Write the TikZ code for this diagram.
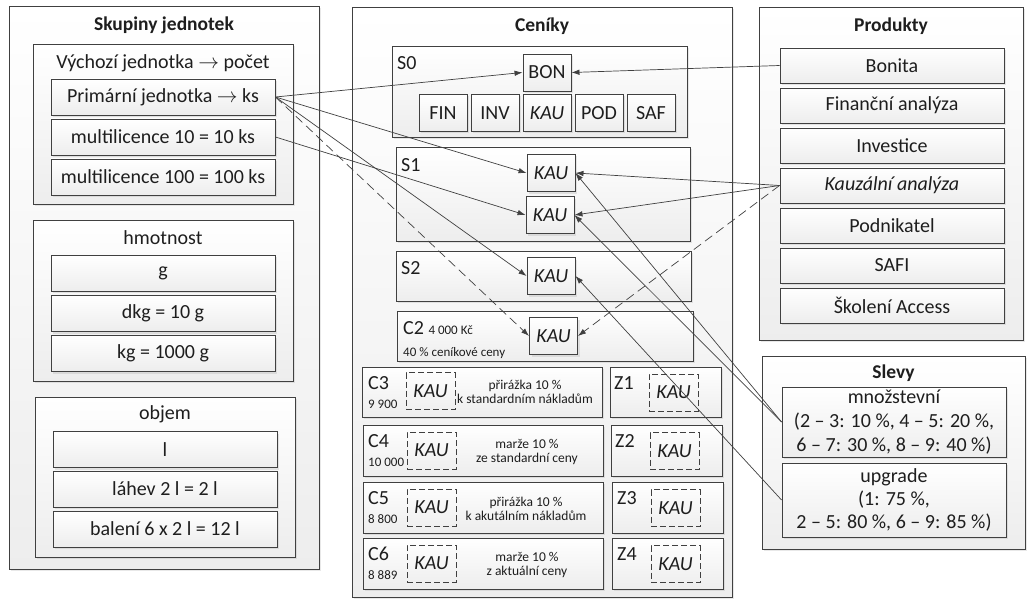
\documentclass[tikz,border=0pt]{standalone}
\usepackage{fontspec}
\setmainfont{Carlito}
\usetikzlibrary{arrows.meta,shadows}

\definecolor{edge}{HTML}{404040}
\definecolor{ink}{HTML}{1E1E1E}

\tikzset{
  panel/.style={draw=edge, line width=0.9pt, top color=white, bottom color=black!7,
    drop shadow={shadow xshift=2pt, shadow yshift=-2pt, opacity=0.18}, inner sep=0pt, text=ink},
  item/.style={panel, minimum width=224pt, minimum height=36pt, font=\fontsize{20}{23}\selectfont},
  tag/.style={panel, minimum width=48pt, minimum height=37pt, font=\fontsize{20}{23}\selectfont},
  dtag/.style={draw=edge, dash pattern=on 6pt off 3pt, line width=0.7pt, minimum width=49pt, minimum height=37pt,
    inner sep=0pt, text=ink, font=\fontsize{20}{23}\selectfont\itshape},
  head/.style={text=ink, font=\fontsize{19.5}{23}\selectfont\bfseries},
  label/.style={text=ink, font=\fontsize{20}{23}\selectfont},
  big/.style={text=ink, anchor=west, inner sep=0pt, font=\fontsize{20}{23}\selectfont},
  small/.style={text=ink, anchor=west, inner sep=0pt, font=\fontsize{13}{15}\selectfont},
  note/.style={text=ink, align=center, font=\fontsize{13.5}{14}\selectfont},
  link/.style={draw=edge, line width=0.7pt, -{Latex[length=8pt,width=5.5pt]}},
  dlink/.style={link, dash pattern=on 9pt off 5pt}
}

\begin{document}
\begin{tikzpicture}[x=1pt,y=-1pt]
  \useasboundingbox (0,0) rectangle (1032,604);

  % Skupiny jednotek
  \node[panel, minimum width=310pt, minimum height=563pt] (units) at (164,287.5) {};
  \node[head] (tunits) at (164,25) {Skupiny jednotek};
  % pocet
  \node[panel, minimum width=260pt, minimum height=160pt] (count) at (163,124) {};
  \node[label] (tcount) at (163,63) {Výchozí jednotka $\rightarrow$ počet};
  \node[item] (prim) at (163,97) {Primární jednotka $\rightarrow$\ ks};
  \node[item] (multi10) at (163,137) {multilicence 10 = 10 ks};
  \node[item] (multi100) at (163,177) {multilicence 100 = 100 ks};
  % hmotnost
  \node[panel, minimum width=260pt, minimum height=161pt] (mass) at (163,300.5) {};
  \node[label] (tmass) at (163,238) {hmotnost};
  \node[item] (gram) at (163,273) {g};
  \node[item] (dkg) at (163,313.5) {dkg = 10 g};
  \node[item] (kg) at (163,353.5) {kg = 1000 g};
  % objem
  \node[panel, minimum width=260pt, minimum height=160pt] (vol) at (165,477) {};
  \node[label] (tvol) at (165,414) {objem};
  \node[item] (litre) at (165,449.5) {l};
  \node[item] (bottle) at (165,489) {láhev 2 l = 2 l};
  \node[item] (pack) at (165,529) {balení 6 x 2 l = 12 l};

  % Ceniky
  \node[panel, minimum width=380pt, minimum height=590pt] (prices) at (542,302) {};
  \node[head] (tprices) at (542,26) {Ceníky};
  % S0
  \node[panel, minimum width=295pt, minimum height=91pt] (s0) at (539.5,91.5) {};
  \node[big] (ls0) at (397,63) {S0};
  \node[tag] (bon) at (547,72.5) {BON};
  \node[tag] (fin) at (443,113) {FIN};
  \node[tag] (inv) at (495,113) {INV};
  \node[tag, font=\fontsize{20}{23}\selectfont\itshape] (kau0) at (547,113) {KAU};
  \node[tag] (pod) at (599,113) {POD};
  \node[tag] (saf) at (651,113) {SAF};
  % S1
  \node[panel, minimum width=294pt, minimum height=94pt] (s1) at (543,194) {};
  \node[big] (ls1) at (401,165) {S1};
  \node[tag, font=\fontsize{20}{23}\selectfont\itshape] (s1a) at (551,173) {KAU};
  \node[tag, font=\fontsize{20}{23}\selectfont\itshape] (s1b) at (550,215) {KAU};
  % S2
  \node[panel, minimum width=295pt, minimum height=50pt] (s2) at (543.5,276) {};
  \node[big] (ls2) at (401,268) {S2};
  \node[tag, font=\fontsize{20}{23}\selectfont\itshape] (s2k) at (551,276) {KAU};
  % C2
  \node[panel, minimum width=296pt, minimum height=50pt] (c2) at (545,336) {};
  \node[big] (lc2) at (403,328) {C2 \fontsize{13}{15}\selectfont 4 000 Kč};
  \node[small] (pc2) at (403,353) {40 \% ceníkové ceny};
  \node[tag, font=\fontsize{20}{23}\selectfont\itshape] (c2k) at (553.5,336) {KAU};
  % C3
  \node[panel, minimum width=240pt, minimum height=50pt] (c3) at (482,392) {};
  \node[big] (lc3) at (368,383) {C3};
  \node[small] (pc3) at (368,404) {9 900};
  \node[dtag] (c3k) at (430.5,391) {KAU};
  \node[note] (nc3) at (525,392) {přirážka 10 \%\\k standardním nákladům};
  % C4
  \node[panel, minimum width=240pt, minimum height=51pt] (c4) at (483,450.5) {};
  \node[big] (lc4) at (368,441) {C4};
  \node[small] (pc4) at (368,462) {10 000};
  \node[dtag] (c4k) at (431.5,450.5) {KAU};
  \node[note] (nc4) at (527,451.5) {marže 10 \%\\ze standardní ceny};
  % C5
  \node[panel, minimum width=240pt, minimum height=51pt] (c5) at (483,507.5) {};
  \node[big] (lc5) at (368,498) {C5};
  \node[small] (pc5) at (368,519) {8 800};
  \node[dtag] (c5k) at (431.5,507.5) {KAU};
  \node[note] (nc5) at (526,508.5) {přirážka 10 \%\\k akutálním nákladům};
  % C6
  \node[panel, minimum width=240pt, minimum height=51pt] (c6) at (483,563.5) {};
  \node[big] (lc6) at (368,554) {C6};
  \node[small] (pc6) at (368,575) {8 889};
  \node[dtag] (c6k) at (431.5,563.5) {KAU};
  \node[note] (nc6) at (527,564.5) {marže 10 \%\\z aktuální ceny};
  % Z1 - Z4
  \node[panel, minimum width=111pt, minimum height=50pt] (z1) at (665.5,392) {};
  \node[big] (lz1) at (614,383) {Z1};
  \node[dtag] (z1k) at (673.5,392.5) {KAU};
  \node[panel, minimum width=111pt, minimum height=51pt] (z2) at (666.5,450.5) {};
  \node[big] (lz2) at (615,441) {Z2};
  \node[dtag] (z2k) at (674.5,451) {KAU};
  \node[panel, minimum width=111pt, minimum height=51pt] (z3) at (667.5,507.5) {};
  \node[big] (lz3) at (617,498) {Z3};
  \node[dtag] (z3k) at (675.5,508) {KAU};
  \node[panel, minimum width=111pt, minimum height=51pt] (z4) at (667.5,563.5) {};
  \node[big] (lz4) at (617,554) {Z4};
  \node[dtag] (z4k) at (675.5,564) {KAU};

  % Produkty
  \node[panel, minimum width=264pt, minimum height=333pt] (prod) at (891,173.5) {};
  \node[head] (tprod) at (891,26) {Produkty};
  \node[item, minimum height=35pt] (bonita) at (892,65.5) {Bonita};
  \node[item, minimum height=35pt] (finan) at (892,105.5) {Finanční analýza};
  \node[item, minimum height=35pt] (invest) at (892,145.5) {Investice};
  \node[item, minimum height=35pt, font=\fontsize{20}{23}\selectfont\itshape] (kauz) at (892,185.5) {Kauzální analýza};
  \node[item, minimum height=35pt] (podnik) at (892,225.5) {Podnikatel};
  \node[item, minimum height=35pt] (safi) at (892,265.5) {SAFI};
  \node[item, minimum height=35pt] (access) at (892,305.5) {Školení Access};

  % Slevy
  \node[panel, minimum width=263pt, minimum height=193pt] (disc) at (893.5,452.5) {};
  \node[head] (tdisc) at (893.5,373) {Slevy};
  \node[item, minimum height=70pt, align=center, font=\fontsize{20}{24}\selectfont] (mnoz) at (894,422)
    {množstevní\\(2 -- 3: 10 \%, 4 -- 5: 20 \%,\\6 -- 7: 30 \%, 8 -- 9: 40 \%)};
  \node[item, minimum height=74pt, align=center, font=\fontsize{20}{23}\selectfont] (upgr) at (894,500)
    {upgrade\\(1: 75 \%,\\2 -- 5: 80 \%, 6 -- 9: 85 \%)};

  % spojnice
  \draw[link] (prim.east) -- (bon.west);
  \draw[link] (prim.east) -- (s1a.west);
  \draw[link] (prim.east) -- (s2k.west);
  \draw[dlink] (prim.east) -- (c2k.west);
  \draw[link] (multi10.east) -- (s1b.west);
  \draw[link] (bonita.west) -- (bon.east);
  \draw[link] (kauz.west) -- (s1a.east);
  \draw[link] (kauz.west) -- (s1b.east);
  \draw[dlink] (kauz.west) -- (c2k.east);
  \draw[link] (mnoz.west) -- (s1a.east);
  \draw[link] (mnoz.west) -- (s1b.east);
  \draw[link] (upgr.west) -- (s2k.east);
\end{tikzpicture}
\end{document}
